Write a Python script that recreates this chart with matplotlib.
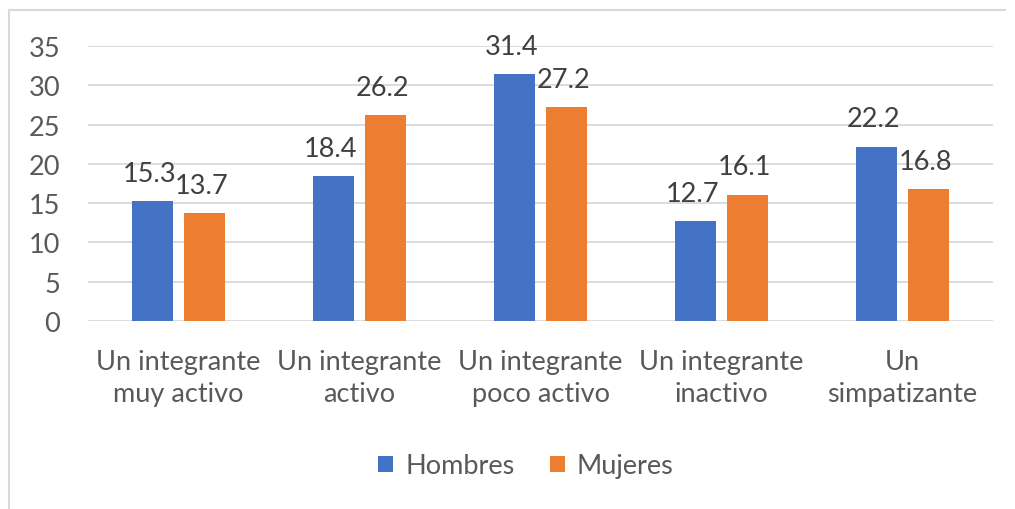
import matplotlib.pyplot as plt
import numpy as np

categorias = ['Un integrante\nmuy activo', 'Un integrante\nactivo', 'Un integrante\npoco activo',
              'Un integrante\ninactivo', 'Un\nsimpatizante']
hombres = [15.3, 18.4, 31.4, 12.7, 22.2]
mujeres = [13.7, 26.2, 27.2, 16.1, 16.8]

plt.rcParams['font.family'] = ['Lato', 'DejaVu Sans']
txt = '#595959'
fs = 19.5

fig = plt.figure(figsize=(10.15, 5.1), dpi=100)
ax = fig.add_axes([88/1015, 188/510, 905/1015, 275/510])

x = np.arange(len(categorias))
w = 0.222
off = 0.144
b1 = ax.bar(x - off, hombres, w, color='#4472C4', label='Hombres', zorder=3)
b2 = ax.bar(x + off, mujeres, w, color='#ED7D31', label='Mujeres', zorder=3)

for bars in (b1, b2):
    for b in bars:
        ax.annotate(f'{b.get_height():.1f}', (b.get_x() + b.get_width()/2, b.get_height()),
                    xytext=(-2, 11), textcoords='offset points', ha='center', va='bottom',
                    fontsize=fs, color='#404040')

ax.set_ylim(0, 35)
ax.set_xlim(-0.5, 4.5)
ax.set_yticks(range(0, 36, 5))
ax.set_xticks(x)
ax.set_xticklabels(categorias, fontsize=fs, color=txt, linespacing=1.35)
ax.tick_params(axis='y', labelsize=fs, labelcolor=txt, length=0, pad=20)
ax.tick_params(axis='x', length=0, pad=20)
ax.grid(axis='y', color='#D9D9D9', linewidth=1.3, zorder=0)
for s in ax.spines.values():
    s.set_visible(False)

fig.legend(loc='center', bbox_to_anchor=(526/1015, 43/510), ncol=2, frameon=False,
           fontsize=fs, labelcolor=txt, handlelength=0.55, handleheight=0.55,
           columnspacing=1.3, handletextpad=0.45)

# chart border (cropped: left and top only)
fig.add_artist(plt.Line2D([9/1015, 9/1015], [0, 1 - 11/510], color='#D9D9D9', lw=1.5))
fig.add_artist(plt.Line2D([9/1015, 1005/1015], [1 - 11/510, 1 - 11/510], color='#D9D9D9', lw=1.5))

fig.savefig('out.png', dpi=100)
